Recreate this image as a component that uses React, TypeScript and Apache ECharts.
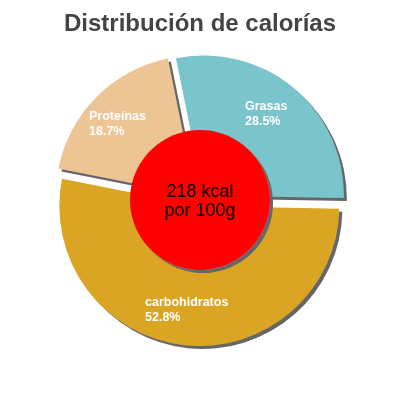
import { useEffect, useRef } from 'react';
import * as echarts from 'echarts';

// datos del gráfico
const categories = ['Grasas', 'carbohidratos', 'Proteínas'];
const percents = [28.5, 52.8, 18.7];
const colors = ['#7AC4CC', '#DAA520', '#EDC594'];
const totalKcal = 218;
const centerText = [`${totalKcal} kcal`, 'por 100g'];

// posición de las etiquetas (esquina superior izquierda)
const labelPos = [
  [245, 99],
  [145, 295],
  [89, 109],
];

const FONT = '"Liberation Sans", Arial, sans-serif';

export default function App() {
  const chartRef = useRef<HTMLDivElement>(null);

  useEffect(() => {
    if (!chartRef.current) return;
    const chart = echarts.init(chartRef.current, null, { renderer: 'svg' });

    const shadow = {
      shadowColor: '#666',
      shadowBlur: 0,
      shadowOffsetX: 3,
      shadowOffsetY: 3,
    };

    const total = percents.reduce((a, b) => a + b, 0);

    const option = {
      animation: false,
      title: {
        text: 'Distribución de calorías',
        left: 'center',
        top: 5,
        textStyle: {
          fontFamily: FONT,
          fontSize: 24,
          fontWeight: 'bold',
          color: '#444',
        },
      },
      // etiquetas de las porciones
      graphic: categories.map((name, i) => ({
        type: 'text',
        x: labelPos[i][0],
        y: labelPos[i][1],
        z: 100,
        silent: true,
        style: {
          text: `${name}\n${((percents[i] / total) * 100).toFixed(1)}%`,
          fill: '#fff',
          font: `bold 12.5px ${FONT}`,
          lineHeight: 14.5,
          align: 'left',
          verticalAlign: 'top',
        },
      })),
      series: [
        {
          type: 'pie',
          center: [200, 200],
          radius: [0, 140],
          startAngle: 101.5,
          clockwise: true,
          selectedMode: 'multiple',
          selectedOffset: 6,
          emphasis: { disabled: true },
          itemStyle: { borderWidth: 0, ...shadow },
          label: { show: false },
          labelLine: { show: false },
          data: categories.map((name, i) => ({
            name,
            value: percents[i],
            selected: true,
            itemStyle: { color: colors[i] },
          })),
        },
        {
          type: 'pie',
          center: [200, 200],
          radius: [0, 70],
          silent: true,
          emphasis: { disabled: true },
          itemStyle: { color: '#FF0000', borderWidth: 0, ...shadow },
          label: {
            show: true,
            position: 'center',
            formatter: centerText.join('\n'),
            color: '#000',
            fontFamily: FONT,
            fontSize: 18,
            lineHeight: 19,
            padding: [0, 0, 3, 0],
          },
          labelLine: { show: false },
          data: [{ name: 'kcal', value: totalKcal }],
        },
      ],
    };

    chart.setOption(option as any);

    return () => {
      chart.dispose();
    };
  }, []);

  return (
    <div
      ref={chartRef}
      style={{ position: 'fixed', left: 0, top: 0, width: 400, height: 400 }}
    />
  );
}
